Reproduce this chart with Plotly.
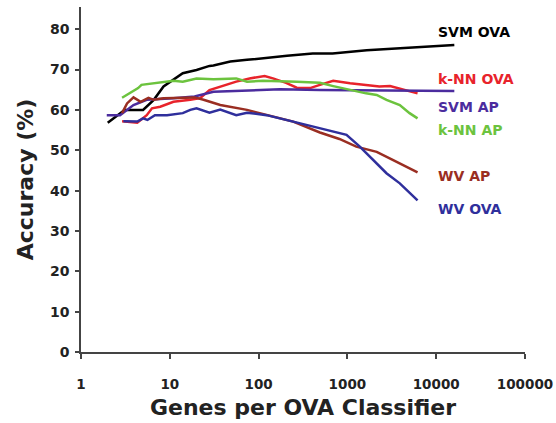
import plotly.graph_objects as go

# ---- data ----
svm_ova_x = [2.0, 2.75, 3.1, 5.0, 6.6, 8.5, 11, 14, 20, 28, 31, 48, 74, 123, 209, 407, 680, 1650, 3870, 9100, 16000]
svm_ova_y = [56.8, 59.2, 60.0, 60.0, 62.5, 65.8, 67.4, 69.1, 69.9, 70.9, 71.0, 72.0, 72.4, 72.8, 73.4, 74.0, 74.0, 74.8, 75.3, 75.8, 76.1]

knn_ova_x = [2.9, 4.3, 5.5, 6.3, 7.8, 11, 17, 22, 28, 37, 56, 79, 117, 145, 204, 269, 380, 490, 692, 1072, 1622, 2291, 3020, 4169, 6166]
knn_ova_y = [57.2, 56.8, 58.7, 60.4, 60.8, 62.0, 62.5, 62.9, 64.9, 65.8, 67.0, 67.8, 68.4, 67.8, 66.7, 65.5, 65.4, 66.2, 67.2, 66.6, 66.2, 65.8, 65.9, 65.1, 64.1]

svm_ap_x = [1.95, 2.75, 3.9, 5.5, 11, 19, 31, 74, 174, 490, 16000]
svm_ap_y = [58.7, 58.7, 61.2, 62.5, 62.9, 63.3, 64.5, 64.8, 65.1, 64.9, 64.7]

knn_ap_x = [2.9, 4.4, 4.8, 7.1, 11, 14, 20, 31, 56, 74, 112, 269, 490, 692, 1072, 1622, 2138, 2754, 3890, 5012, 6166]
knn_ap_y = [63.0, 65.4, 66.2, 66.6, 67.2, 67.0, 67.8, 67.6, 67.8, 67.0, 67.2, 67.0, 66.7, 65.9, 64.9, 64.1, 63.7, 62.5, 61.2, 59.2, 57.9]

wv_ap_x = [2.9, 3.3, 3.9, 4.7, 5.75, 6.6, 8.5, 13, 19, 24, 37, 74, 123, 245, 490, 813, 1259, 2138, 3236, 6166]
wv_ap_y = [59.2, 61.6, 63.1, 62.0, 63.0, 62.5, 62.9, 63.1, 63.1, 62.5, 61.2, 60.0, 58.7, 57.1, 54.4, 52.8, 50.9, 49.6, 47.6, 44.5]

wv_ova_x = [3.0, 4.3, 5.0, 5.6, 6.8, 9.3, 14, 17, 20, 28, 37, 56, 74, 123, 245, 490, 692, 977, 1380, 1950, 2754, 3890, 6166]
wv_ova_y = [57.2, 57.1, 57.9, 57.5, 58.7, 58.7, 59.2, 60.0, 60.4, 59.3, 60.1, 58.7, 59.3, 58.7, 57.1, 55.4, 54.6, 53.8, 50.9, 47.6, 44.3, 41.8, 37.6]

series_names = ["SVM OVA", "k-NN OVA", "SVM AP", "k-NN AP", "WV AP", "WV OVA"]
x_tick_vals = [1, 10, 100, 1000, 10000, 100000]
x_tick_text = ["1", "10", "100", "1000", "10000", "100000"]
y_tick_vals = [0, 10, 20, 30, 40, 50, 60, 70, 80]

# ---- styling ----
colors = ["#000000", "#e8232b", "#4b2c9e", "#6cc33e", "#9a2e22", "#2f2f9c"]
label_y = [79.3, 67.7, 60.6, 55.0, 43.6, 35.4]
FONT = "DejaVu Sans"

xs = [svm_ova_x, knn_ova_x, svm_ap_x, knn_ap_x, wv_ap_x, wv_ova_x]
ys = [svm_ova_y, knn_ova_y, svm_ap_y, knn_ap_y, wv_ap_y, wv_ova_y]

fig = go.Figure()
for name, x, y, c in zip(series_names, xs, ys, colors):
    fig.add_trace(go.Scatter(x=x, y=y, mode="lines", name=name,
                             line=dict(color=c, width=2.5)))

for name, c, ly in zip(series_names, colors, label_y):
    fig.add_annotation(x=4.0, y=ly, xref="x", yref="y", text=name,
                       showarrow=False, xanchor="left", yanchor="middle",
                       font=dict(family=FONT, size=14, color=c, weight="bold"))

fig.update_layout(
    width=556, height=423,
    margin=dict(l=81, r=31, t=7, b=71),
    paper_bgcolor="white", plot_bgcolor="white",
    showlegend=False,
    font=dict(family=FONT, color="#222222"),
)
fig.update_xaxes(
    type="log", range=[0, 5],
    tickvals=x_tick_vals, ticktext=x_tick_text,
    showgrid=False, zeroline=False,
    showline=True, linecolor="#444444", linewidth=1.5,
    ticks="outside", ticklen=5, tickcolor="#444444", tickwidth=1.5,
    tickfont=dict(family=FONT, size=13.5, color="#222222", weight="bold"),
    ticklabelstandoff=14, ticklabeloverflow="allow",
    title=dict(text="Genes per OVA Classifier", standoff=9,
               font=dict(family=FONT, size=22, color="#222222", weight="bold")),
    automargin=False,
)
fig.update_yaxes(
    range=[0, 85.5],
    tickvals=y_tick_vals,
    showgrid=False, zeroline=False,
    showline=True, linecolor="#444444", linewidth=1.5,
    ticks="outside", ticklen=4, tickcolor="#444444", tickwidth=1.5,
    tickfont=dict(family=FONT, size=14, color="#222222", weight="bold"),
    ticklabelstandoff=3,
    title=dict(text="Accuracy (%)", standoff=10,
               font=dict(family=FONT, size=22, color="#222222", weight="bold")),
    automargin=False,
)

fig.write_html(
    "out.html",
    config={"displayModeBar": False},
    post_script="document.body.style.margin='0';document.body.style.overflow='hidden';",
)
